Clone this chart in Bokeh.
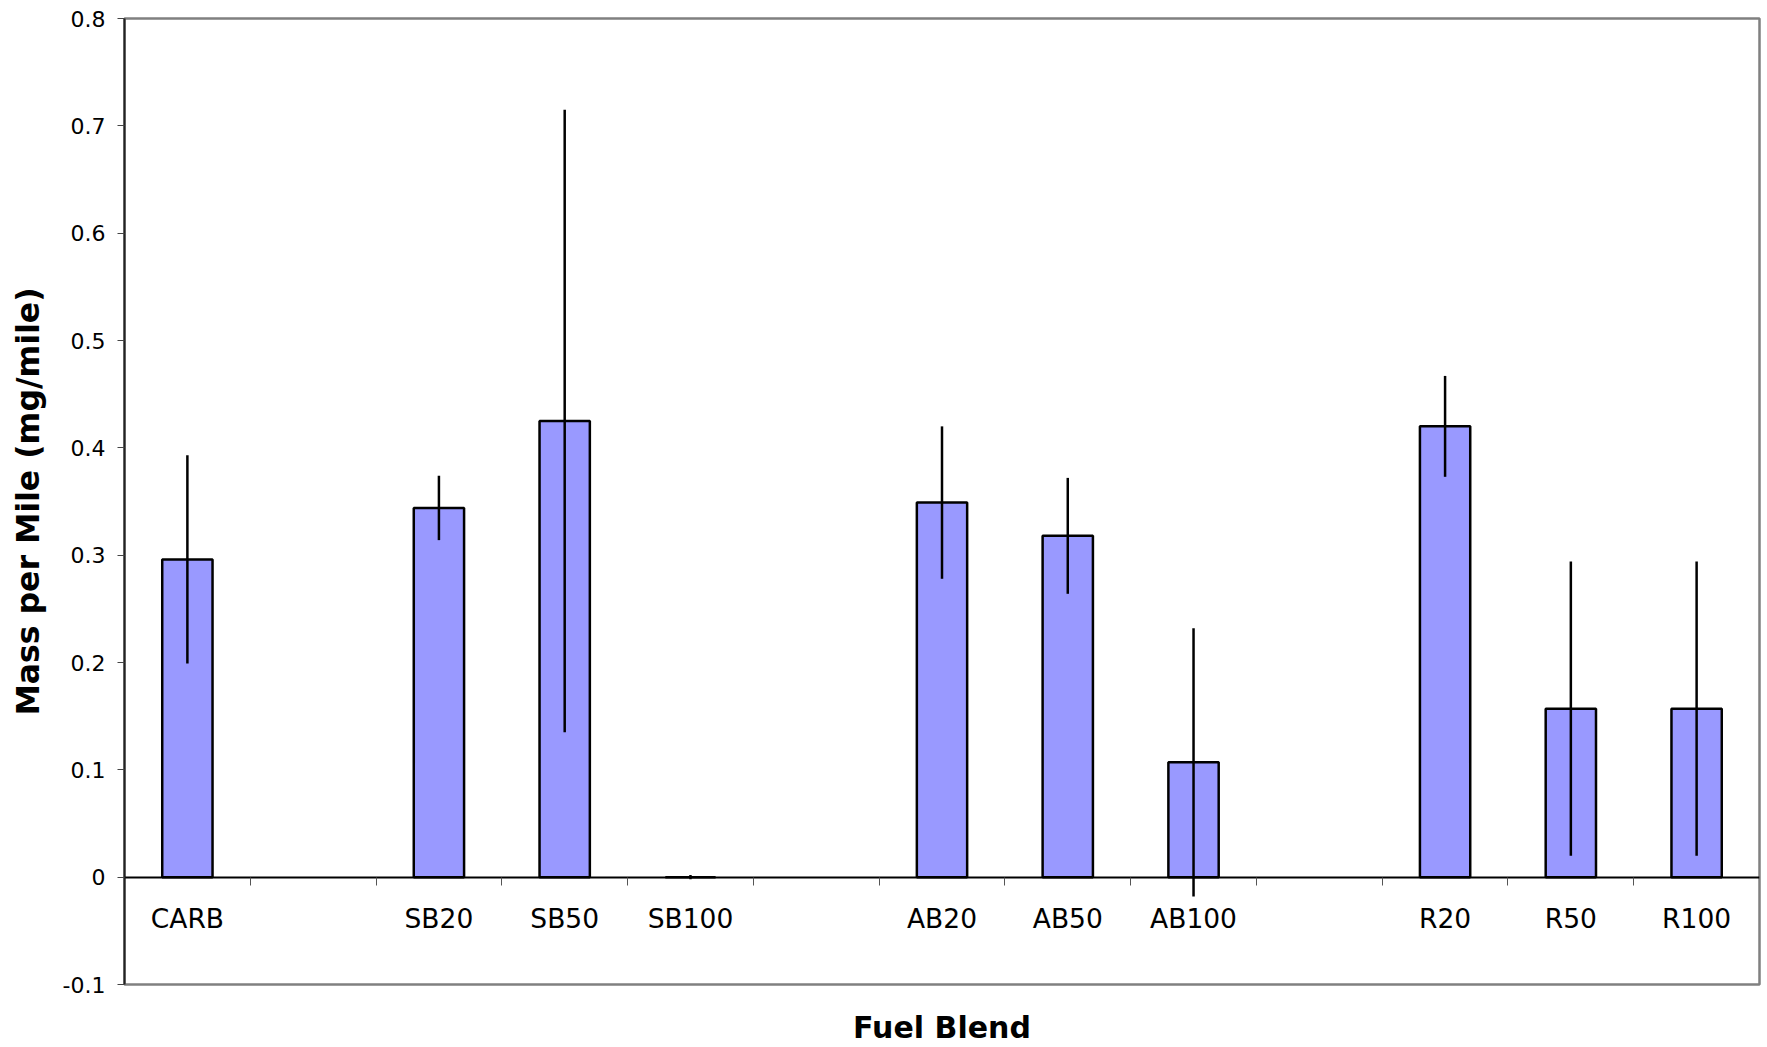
from bokeh.plotting import figure
from bokeh.models import Range1d, LinearAxis, FixedTicker, ColumnDataSource, Whisker
from bokeh.embed import file_html
from bokeh.resources import INLINE

# category slots along the x axis (empty strings are gaps between groups)
slots = ["CARB", "", "SB20", "SB50", "SB100", "", "AB20", "AB50", "AB100", "", "R20", "R50", "R100"]
blends = ["CARB", "SB20", "SB50", "SB100", "AB20", "AB50", "AB100", "R20", "R50", "R100"]
mass = [0.296, 0.344, 0.425, 0.0, 0.349, 0.318, 0.107, 0.420, 0.157, 0.157]
err = [0.097, 0.030, 0.290, 0.002, 0.071, 0.054, 0.125, 0.047, 0.137, 0.137]
y_ticks = [-0.1, 0.0, 0.1, 0.2, 0.3, 0.4, 0.5, 0.6, 0.7, 0.8]
y_tick_labels = ["-0.1", "0", "0.1", "0.2", "0.3", "0.4", "0.5", "0.6", "0.7", "0.8"]

FONT = "DejaVu Sans"

xs = [slots.index(b) + 0.5 for b in blends]
src = ColumnDataSource(dict(
    x=xs, mass=mass,
    upper=[m + e for m, e in zip(mass, err)],
    lower=[m - e for m, e in zip(mass, err)],
))

p = figure(width=1767, height=1047, output_backend="svg", toolbar_location=None,
           x_axis_type=None, y_axis_type=None,
           x_range=Range1d(0, len(slots)), y_range=Range1d(-0.1, 0.8),
           min_border_left=124, min_border_right=8, min_border_top=18, min_border_bottom=61)
p.outline_line_color = "#808080"
p.outline_line_width = 2.5
p.background_fill_color = "white"
p.border_fill_color = "white"

p.vbar(x="x", top="mass", bottom=0, width=0.4, fill_color="#9999FF",
       line_color="black", line_width=2.5, source=src)
p.add_layout(Whisker(base="x", upper="upper", lower="lower", source=src, level="overlay",
                     upper_head=None, lower_head=None, line_width=2.5, line_color="black"))

# y axis
yaxis = LinearAxis(ticker=FixedTicker(ticks=y_ticks, minor_ticks=[]),
                   major_label_overrides={t: l for t, l in zip(y_ticks, y_tick_labels)},
                   axis_label="Mass per Mile (mg/mile)")
yaxis.axis_label_text_font = FONT
yaxis.axis_label_text_font_style = "bold"
yaxis.axis_label_text_font_size = "31.5px"
yaxis.axis_label_text_color = "black"
yaxis.axis_label_standoff = 14
yaxis.major_label_text_font = FONT
yaxis.major_label_text_font_size = "22px"
yaxis.major_label_text_color = "black"
yaxis.major_label_standoff = 12
yaxis.major_tick_in = 0
yaxis.major_tick_out = 7
yaxis.major_tick_line_color = "#444444"
yaxis.axis_line_color = "#222222"
yaxis.axis_line_width = 2
p.add_layout(yaxis, "left")

# x axis labels at category centres, placed on the zero line
label_ticks = [i + 0.5 for i, s in enumerate(slots) if s]
xlab = LinearAxis(ticker=FixedTicker(ticks=label_ticks, minor_ticks=[]),
                  major_label_overrides={i + 0.5: s for i, s in enumerate(slots) if s},
                  fixed_location=0)
xlab.major_tick_line_color = None
xlab.major_tick_in = 0
xlab.major_tick_out = 0
xlab.major_label_standoff = 26
xlab.major_label_text_font = FONT
xlab.major_label_text_font_size = "26.5px"
xlab.major_label_text_color = "black"
xlab.axis_line_color = "black"
xlab.axis_line_width = 1.8
p.add_layout(xlab, "below")

# x axis tick marks at category boundaries
xtk = LinearAxis(ticker=FixedTicker(ticks=list(range(1, len(slots))), minor_ticks=[]),
                 fixed_location=0)
xtk.major_label_text_font_size = "0px"
xtk.major_label_text_color = None
xtk.major_tick_in = 0
xtk.major_tick_out = 8
xtk.major_tick_line_color = "#555555"
xtk.major_tick_line_width = 1
xtk.axis_line_color = None
p.add_layout(xtk, "below")

# x axis title
xtitle = LinearAxis(ticker=FixedTicker(ticks=[], minor_ticks=[]), axis_label="Fuel Blend")
xtitle.axis_line_color = None
xtitle.major_tick_line_color = None
xtitle.major_label_text_font_size = "0px"
xtitle.axis_label_standoff = 25
xtitle.axis_label_text_font = FONT
xtitle.axis_label_text_font_style = "bold"
xtitle.axis_label_text_font_size = "30px"
xtitle.axis_label_text_color = "black"
p.add_layout(xtitle, "below")

open("out.html", "w").write(file_html(p, INLINE))
